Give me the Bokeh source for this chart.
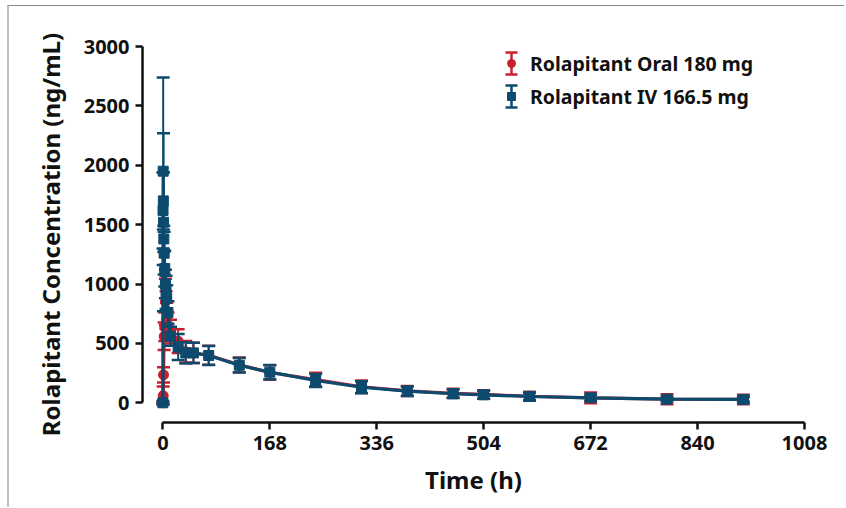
from bokeh.plotting import figure
from bokeh.models import (Range1d, Legend, LegendItem, ColumnDataSource, FixedTicker,
                          Whisker, TeeHead)
from bokeh.embed import file_html
from bokeh.resources import INLINE

# ---- data ----
oral_time = [0, 0.5, 1, 2, 3, 4, 5, 6, 8, 12, 24, 36, 48, 72, 120, 168, 240, 312, 384, 456, 504, 576, 672, 792, 912]
oral_mean = [0, 60, 235, 560, 640, 850, 780, 700, 650, 600, 520, 430, 420, 400, 320, 255, 195, 135, 100, 80, 70, 55, 42, 30, 28]
oral_sd = [0, 77, 65, 115, 120, 195, 160, 143, 110, 100, 100, 90, 85, 80, 62, 62, 58, 52, 42, 38, 35, 38, 45, 42, 40]

iv_time = [0, 0.25, 0.5, 0.75, 1, 1.5, 2, 3, 4, 5, 6, 8, 12, 24, 36, 48, 72, 120, 168, 240, 312, 384, 456, 504, 576, 672, 792, 912]
iv_mean = [0, 1620, 1950, 1700, 1520, 1380, 1260, 1130, 1000, 930, 880, 760, 560, 470, 420, 420, 398, 316, 258, 188, 131, 98, 76, 67, 53, 42, 30, 28]
iv_sd = [15, 320, 790, 240, 750, 110, 180, 150, 120, 140, 110, 95, 80, 110, 90, 85, 80, 62, 60, 55, 50, 40, 35, 32, 30, 25, 20, 20]

x_ticks = [0, 168, 336, 504, 672, 840, 1008]
y_ticks = [0, 500, 1000, 1500, 2000, 2500, 3000]

series_names = ["Rolapitant Oral 180 mg", "Rolapitant IV 166.5 mg"]
RED = "#c8202e"
BLUE = "#0c4a6e"
FONT = "Noto Sans"

p = figure(width=837, height=502, output_backend="svg", toolbar_location=None,
           x_range=Range1d(-32, 1008), y_range=Range1d(-166, 3000),
           min_border_left=133, min_border_top=40, min_border_right=42, min_border_bottom=86)
p.styles = {"margin-top": "5px", "margin-left": "7px",
            "border-top": "1px solid #8a8a8a", "border-left": "2px solid #c0c0c0"}
p.outline_line_color = None
p.xgrid.visible = False
p.ygrid.visible = False
p.background_fill_color = "white"
p.border_fill_color = "white"


def draw(time, mean, sd, color, marker):
    src = ColumnDataSource(dict(t=time, m=mean,
                                up=[a + b for a, b in zip(mean, sd)],
                                lo=[a - b for a, b in zip(mean, sd)]))
    p.line("t", "m", source=src, line_color=color, line_width=3.2)
    p.segment(x0="t", y0="lo", x1="t", y1="up", source=src, line_color=color, line_width=2)
    p.scatter("t", "up", source=src, marker="dash", size=13, line_color=color, line_width=2.5)
    p.scatter("t", "lo", source=src, marker="dash", size=13, line_color=color, line_width=2.5)
    p.scatter("t", "m", source=src, marker=marker, size=10, fill_color=color, line_color=color)


draw(oral_time, oral_mean, oral_sd, RED, "circle")
draw(iv_time, iv_mean, iv_sd, BLUE, "square")

# ---- legend: markers + labels via Legend, error-bar icons via screen-unit whiskers ----
LEG_X, LEG_BOTTOM, ROW_H, ROW_GAP, GLYPH_W = 359, 311, 30, 3, 20
leg_items = []
for name, color, marker in zip(series_names, [RED, BLUE], ["circle", "square"]):
    e = ColumnDataSource(dict(x=[float("nan")], y=[float("nan")]))
    r_mk = p.scatter("x", "y", source=e, marker=marker, size=9, fill_color=color, line_color=color)
    leg_items.append(LegendItem(label=name, renderers=[r_mk]))

legend = Legend(items=leg_items, location=(LEG_X, LEG_BOTTOM), orientation="vertical",
                glyph_width=GLYPH_W, glyph_height=ROW_H, label_height=ROW_H, spacing=ROW_GAP,
                padding=0, margin=0, label_standoff=9,
                label_text_font=FONT, label_text_font_style="bold", label_text_font_size="19.5px",
                label_text_color="#111111",
                background_fill_alpha=0, border_line_color=None)
p.add_layout(legend, "center")

legend_top = LEG_BOTTOM + 2 * ROW_H + ROW_GAP
for i, color in enumerate([RED, BLUE]):
    cy = legend_top - ROW_H / 2 - i * (ROW_H + ROW_GAP)
    ws = ColumnDataSource(dict(b=[LEG_X + GLYPH_W / 2], u=[cy + 11], l=[cy - 11]))
    w = Whisker(source=ws, base="b", upper="u", lower="l", dimension="height",
                base_units="screen", upper_units="screen", lower_units="screen",
                line_color=color, line_width=2.5,
                upper_head=TeeHead(size=12, line_color=color, line_width=2.5),
                lower_head=TeeHead(size=12, line_color=color, line_width=2.5),
                level="overlay")
    p.add_layout(w)

for ax, ticks, bounds in ((p.xaxis, x_ticks, (0, 1008)), (p.yaxis, y_ticks, (0, 3000))):
    ax.ticker = FixedTicker(ticks=ticks)
    ax.bounds = bounds
    ax.axis_line_width = 2.5
    ax.axis_line_color = "#111111"
    ax.major_tick_line_width = 2.5
    ax.major_tick_line_color = "#111111"
    ax.major_tick_out = 7
    ax.major_tick_in = 0
    ax.minor_tick_line_color = None
    ax.major_label_text_font = FONT
    ax.major_label_text_font_style = "bold"
    ax.major_label_text_font_size = "20px"
    ax.major_label_text_color = "#111111"
    ax.major_label_standoff = 6
    ax.axis_label_text_font = FONT
    ax.axis_label_text_font_style = "bold"
    ax.axis_label_text_font_size = "24px"
    ax.axis_label_text_color = "#111111"

p.xaxis.axis_label = "Time (h)"
p.yaxis.axis_label = "Rolapitant Concentration (ng/mL)"
p.xaxis.axis_label_standoff = 10
p.yaxis.axis_label_standoff = 14

open("out.html", "w").write(file_html(p, INLINE))
